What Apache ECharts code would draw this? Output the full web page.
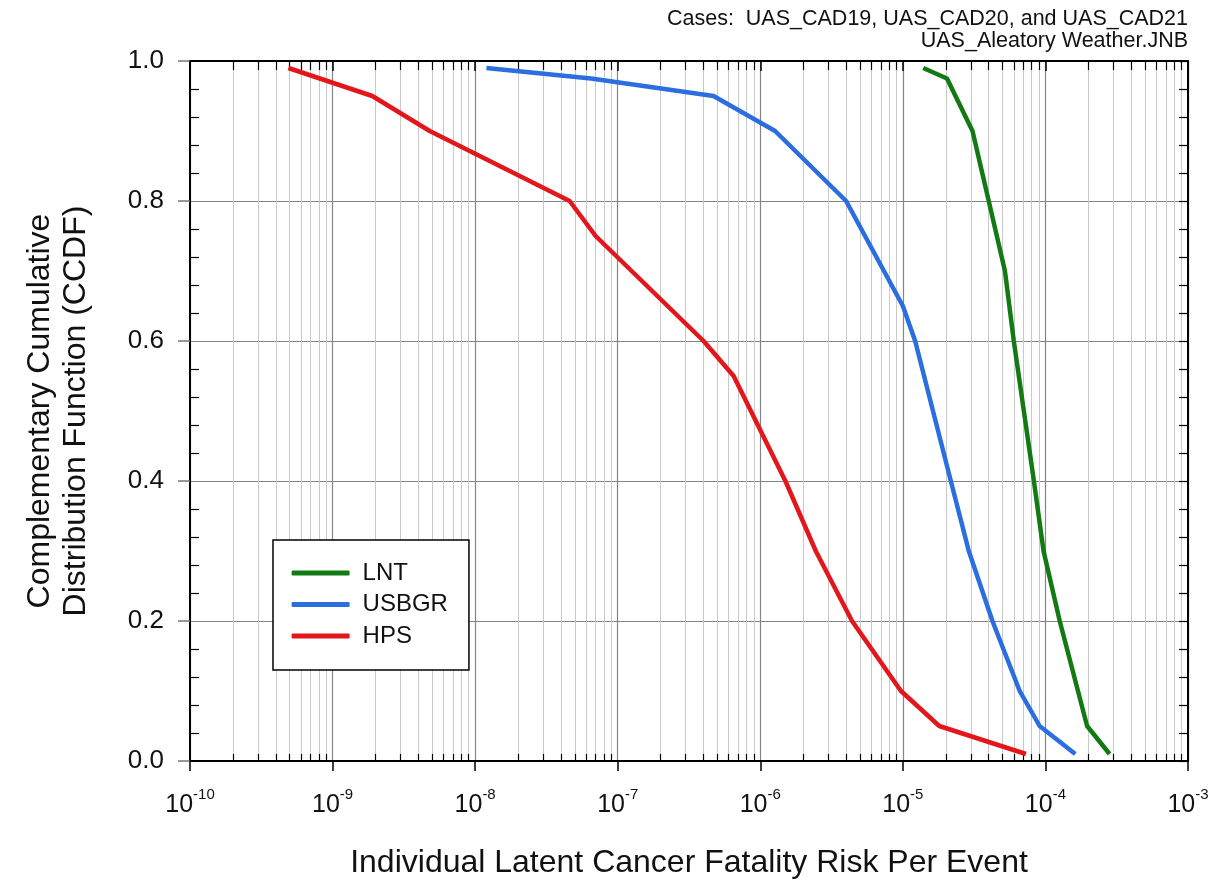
<!DOCTYPE html>
<html>
<head>
<meta charset="utf-8">
<script src="https://cdn.jsdelivr.net/npm/echarts@6/dist/echarts.min.js"></script>
<style>
html,body{margin:0;padding:0;background:#fff;}
#chart{width:1217px;height:882px;}
</style>
</head>
<body>
<div id="chart"></div>
<script>
// ---- Data ----
const seriesNames = ['LNT', 'USBGR', 'HPS'];

const lntRisk  = [1.39e-5, 2.04e-5, 3.08e-5, 5.2e-5, 6.0e-5, 8.3e-5, 9.7e-5, 1.26e-4, 1.96e-4, 2.82e-4];
const lntCcdf  = [0.99, 0.975, 0.9, 0.7, 0.6, 0.4, 0.3, 0.2, 0.05, 0.01];

const usbgrRisk = [1.2e-8, 6.5e-8, 4.7e-7, 1.27e-6, 4.0e-6, 1.0e-5, 1.22e-5, 2.17e-5, 2.9e-5, 4.25e-5, 6.6e-5, 9.1e-5, 1.62e-4];
const usbgrCcdf = [0.99, 0.975, 0.95, 0.9, 0.8, 0.65, 0.6, 0.4, 0.3, 0.2, 0.1, 0.05, 0.01];

const hpsRisk = [4.9e-10, 1.9e-9, 4.8e-9, 4.6e-8, 7.0e-8, 4.0e-7, 6.5e-7, 1.5e-6, 2.45e-6, 4.4e-6, 9.7e-6, 1.8e-5, 7.3e-5];
const hpsCcdf = [0.99, 0.95, 0.9, 0.8, 0.75, 0.6, 0.55, 0.4, 0.3, 0.2, 0.1, 0.05, 0.01];

const xMin = 1e-10, xMax = 1e-3;
const yTicks = [0.0, 0.2, 0.4, 0.6, 0.8, 1.0];

const titleLines = ['Cases:  UAS_CAD19, UAS_CAD20, and UAS_CAD21', 'UAS_Aleatory Weather.JNB'];
const xName = 'Individual Latent Cancer Fatality Risk Per Event';
const yName = 'Complementary Cumulative\nDistribution Function (CCDF)';

const colors = ['#137a13', '#2a6ee0', '#e3161b'];

function pairs(xs, ys) { return xs.map((x, i) => [x, ys[i]]); }

const FONT = '"Liberation Sans", Arial, sans-serif';

const chart = echarts.init(document.getElementById('chart'), null, {renderer: 'canvas'});

const xBase = {
  type: 'log', logBase: 10, min: xMin, max: xMax, splitNumber: 7,
  axisLine: {show: true, onZero: false, lineStyle: {color: '#000', width: 2}},
};

const titleStyle = {fontFamily: FONT, fontSize: 21.5, fontWeight: 'normal', color: '#111'};

const option = {
  backgroundColor: '#fff',
  animation: false,
  title: [
    {text: titleLines[0], right: 29, top: 8, padding: 0, textStyle: titleStyle},
    {text: titleLines[1], right: 29, top: 30, padding: 0, textStyle: titleStyle}
  ],
  grid: {left: 190, right: 29, top: 61, bottom: 121, containLabel: false, outerBoundsMode: 'none'},
  legend: {
    data: seriesNames,
    orient: 'vertical',
    left: 273, top: 540,
    icon: 'roundRect',
    itemWidth: 58, itemHeight: 5, itemGap: 7.5,
    padding: [21, 21, 22, 18.6],
    borderColor: '#000', borderWidth: 1.5,
    backgroundColor: '#fff',
    textStyle: {fontFamily: FONT, fontSize: 24, color: '#111', padding: [0, 0, 0, 8], lineHeight: 24}
  },
  xAxis: [
    Object.assign({}, xBase, {
      position: 'bottom',
      name: xName, nameLocation: 'middle', nameGap: 86,
      nameTextStyle: {fontFamily: FONT, fontSize: 32, color: '#111'},
      axisTick: {show: true, inside: false, length: 10, lineStyle: {color: '#000', width: 1.5}},
      minorTick: {show: true, splitNumber: 9, length: -7, lineStyle: {color: '#000', width: 1.2}},
      axisLabel: {
        margin: 24,
        formatter: function (v) {
          const e = Math.round(Math.log10(v));
          return '{b|10}{s|' + e + '}';
        },
        rich: {
          b: {fontFamily: FONT, fontSize: 25, color: '#111', padding: [8, 0, 0, 0]},
          s: {fontFamily: FONT, fontSize: 15, color: '#111', padding: [0, 0, 14, 0]}
        }
      },
      splitLine: {show: true, lineStyle: {color: '#858585', width: 1.2}},
      minorSplitLine: {show: true, lineStyle: {color: '#c9c9c9', width: 1}}
    }),
    Object.assign({}, xBase, {
      position: 'top',
      axisTick: {show: true, inside: true, length: 10, lineStyle: {color: '#000', width: 1.5}},
      minorTick: {show: true, splitNumber: 9, length: 9, lineStyle: {color: '#000', width: 1.2}},
      axisLabel: {show: false},
      splitLine: {show: false}
    })
  ],
  yAxis: [
    {
      type: 'value', min: 0, max: 1, interval: 0.2, position: 'left',
      name: yName, nameLocation: 'middle', nameGap: 96, nameRotate: 90,
      nameTextStyle: {fontFamily: FONT, fontSize: 32, color: '#111', lineHeight: 36},
      axisLine: {show: true, lineStyle: {color: '#000', width: 2}},
      axisTick: {show: true, inside: false, length: 12, lineStyle: {color: '#777', width: 1.5}},
      minorTick: {show: true, splitNumber: 5, length: -9, lineStyle: {color: '#000', width: 1.2}},
      axisLabel: {
        margin: 26, fontFamily: FONT, fontSize: 26, color: '#111',
        formatter: function (v) { return v.toFixed(1); }
      },
      splitLine: {show: true, lineStyle: {color: '#858585', width: 1.2}}
    },
    {
      type: 'value', min: 0, max: 1, interval: 0.2, position: 'right',
      axisLine: {show: true, lineStyle: {color: '#000', width: 2}},
      axisTick: {show: true, inside: true, length: 9, lineStyle: {color: '#000', width: 1.2}},
      minorTick: {show: true, splitNumber: 5, length: 9, lineStyle: {color: '#000', width: 1.2}},
      axisLabel: {show: false},
      splitLine: {show: false}
    }
  ],
  series: [
    {name: 'LNT', type: 'line', xAxisIndex: 0, yAxisIndex: 0, data: pairs(lntRisk, lntCcdf),
     symbol: 'none', color: colors[0], lineStyle: {width: 4.5, color: colors[0]}},
    {name: 'USBGR', type: 'line', xAxisIndex: 0, yAxisIndex: 0, data: pairs(usbgrRisk, usbgrCcdf),
     symbol: 'none', color: colors[1], lineStyle: {width: 4.5, color: colors[1]}},
    {name: 'HPS', type: 'line', xAxisIndex: 0, yAxisIndex: 0, data: pairs(hpsRisk, hpsCcdf),
     symbol: 'none', color: colors[2], lineStyle: {width: 4.5, color: colors[2]}}
  ]
};

chart.setOption(option);
</script>
</body>
</html>
